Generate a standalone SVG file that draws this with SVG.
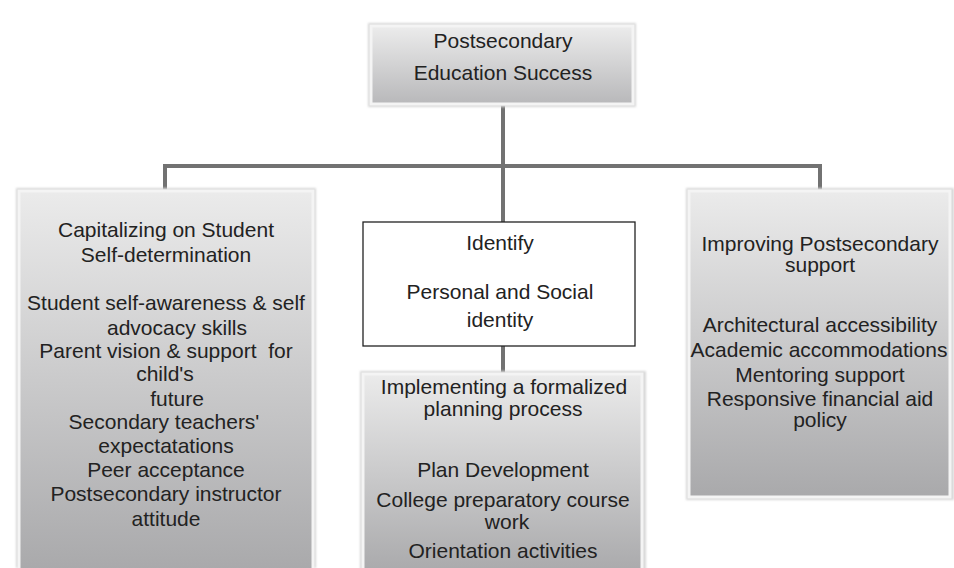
<svg xmlns="http://www.w3.org/2000/svg" width="954" height="568" viewBox="0 0 954 568">
<defs>
<linearGradient id="g" x1="0" y1="0" x2="0" y2="1">
<stop offset="0" stop-color="#ebebeb"/>
<stop offset="1" stop-color="#a9a9ab"/>
</linearGradient>
<linearGradient id="gt" x1="0" y1="0" x2="0" y2="1">
<stop offset="0" stop-color="#ececec"/>
<stop offset="1" stop-color="#b8b8ba"/>
</linearGradient>
<filter id="soft" x="-5%" y="-5%" width="110%" height="110%">
<feGaussianBlur stdDeviation="1.2"/>
</filter>
</defs>
<style>
text{font-family:"Liberation Sans",Arial,sans-serif;font-size:21px;fill:#222;text-anchor:middle;white-space:pre}
.box{stroke:#f4f4f4;stroke-width:3}
.halo{fill:#d8d8d8;filter:url(#soft)}
.conn{stroke:#727272;stroke-width:4;fill:none}
.white{fill:#fff;stroke:#222;stroke-width:1.3}
</style>
<rect width="954" height="568" fill="#fff"/>
<g id="connectors">
<polyline class="conn" points="165,190 165,166 820,166 820,190"/>
<line class="conn" x1="503" y1="104" x2="503" y2="222"/>
<line class="conn" x1="503" y1="346" x2="503" y2="374"/>
</g>
<g id="top">
<rect class="halo" x="368" y="23" width="268" height="84"/>
<rect class="box" x="371" y="26" width="262" height="78" fill="url(#gt)"/>
<text x="503" y="48">Postsecondary</text>
<text x="503" y="80">Education Success</text>
</g>
<g id="left">
<rect class="halo" x="16" y="188" width="300" height="380"/>
<rect class="box" x="19" y="191" width="294" height="380" fill="url(#g)"/>
<text x="166" y="237">Capitalizing on Student</text>
<text x="166" y="262">Self-determination</text>
<text x="166" y="310">Student self-awareness &amp; self</text>
<text x="177" y="335">advocacy skills</text>
<text x="166" y="358" xml:space="preserve">Parent vision &amp; support  for</text>
<text x="165" y="381">child's</text>
<text x="177" y="406">future</text>
<text x="164" y="429">Secondary teachers'</text>
<text x="166" y="453">expectatations</text>
<text x="166" y="477">Peer acceptance</text>
<text x="166" y="501">Postsecondary instructor</text>
<text x="166" y="526">attitude</text>
</g>
<g id="identify">
<rect class="white" x="363" y="222" width="272" height="124"/>
<text x="500" y="250">Identify</text>
<text x="500" y="299">Personal and Social</text>
<text x="500" y="327">identity</text>
</g>
<g id="planning">
<rect class="halo" x="360" y="371" width="286" height="200"/>
<rect class="box" x="363" y="374" width="279" height="200" fill="url(#g)"/>
<text x="504" y="394">Implementing a formalized</text>
<text x="503" y="416">planning process</text>
<text x="503" y="477">Plan Development</text>
<text x="503" y="507">College preparatory course</text>
<text x="507" y="529">work</text>
<text x="503" y="558">Orientation activities</text>
</g>
<g id="right">
<rect class="halo" x="686" y="188" width="268" height="312"/>
<rect class="box" x="689" y="191" width="261" height="306" fill="url(#g)"/>
<text x="820" y="251">Improving Postsecondary</text>
<text x="820" y="272">support</text>
<text x="820" y="332">Architectural accessibility</text>
<text x="819" y="357">Academic accommodations</text>
<text x="820" y="382">Mentoring support</text>
<text x="820" y="406">Responsive financial aid</text>
<text x="820" y="427">policy</text>
</g>
</svg>
